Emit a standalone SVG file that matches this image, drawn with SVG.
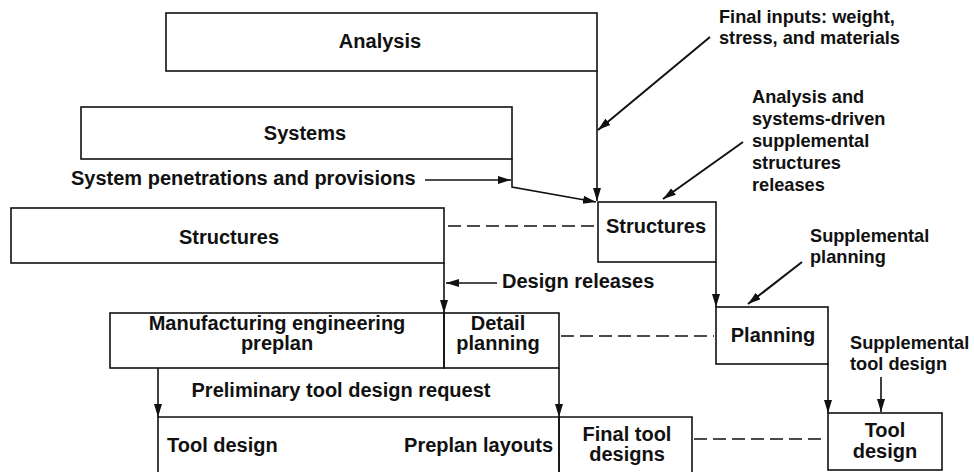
<svg xmlns="http://www.w3.org/2000/svg" width="974" height="472" viewBox="0 0 974 472">
<defs>
<marker id="ah" markerUnits="userSpaceOnUse" markerWidth="14" markerHeight="10" refX="13" refY="4" orient="auto">
<path d="M0,0 L13,4 L0,8 z" fill="#111"/>
</marker>
<style>
text{font-family:"Liberation Sans",Arial,sans-serif;font-weight:bold;font-size:20px;fill:#111}
.c{text-anchor:middle}
.n{font-size:18.2px}
.box{fill:none;stroke:#111;stroke-width:1.6}
.ln{fill:none;stroke:#111;stroke-width:1.6}
.ar{fill:none;stroke:#111;stroke-width:2}
.da{fill:none;stroke:#111;stroke-width:1.6;stroke-dasharray:13 6}
</style>
</defs>
<rect width="974" height="472" fill="#fff"/>

<g id="analysis">
<rect class="box" x="166" y="13" width="431" height="58"/>
<text class="c" x="380" y="48">Analysis</text>
</g>
<g id="systems">
<rect class="box" x="81" y="107" width="431" height="52"/>
<text class="c" x="305" y="140">Systems</text>
</g>
<g id="structures-main">
<rect class="box" x="11" y="208" width="433" height="55"/>
<text class="c" x="229" y="244">Structures</text>
</g>
<g id="mfg-preplan">
<rect class="box" x="110" y="313" width="334" height="55"/>
<text class="c" x="277" y="330">Manufacturing engineering</text>
<text class="c" x="277" y="350">preplan</text>
</g>
<g id="detail-planning">
<rect class="box" x="444" y="313" width="115" height="55"/>
<text class="c" x="498" y="330">Detail</text>
<text class="c" x="498" y="350">planning</text>
</g>
<g id="tool-design-main">
<path class="ln" d="M158,472 V417 H559 V472"/>
<text x="167" y="452">Tool design</text>
<text x="553" y="452" text-anchor="end">Preplan layouts</text>
</g>
<g id="final-tool-designs">
<path class="ln" d="M559,472 V417 H692 V472"/>
<text class="c" x="627" y="441">Final tool</text>
<text class="c" x="627" y="461">designs</text>
</g>
<g id="structures-supp">
<rect class="box" x="598" y="202" width="118" height="60"/>
<text class="c" x="656" y="233">Structures</text>
</g>
<g id="planning">
<rect class="box" x="716" y="307" width="112" height="57"/>
<text class="c" x="773" y="342">Planning</text>
</g>
<g id="tool-design-supp">
<rect class="box" x="828" y="413" width="114" height="57"/>
<text class="c" x="885" y="437">Tool</text>
<text class="c" x="885" y="458">design</text>
</g>

<g id="labels">
<text x="71" y="185">System penetrations and provisions</text>
<text x="502" y="288">Design releases</text>
<text class="c" x="341" y="397">Preliminary tool design request</text>
<text class="n" x="719" y="23">Final inputs: weight,</text>
<text class="n" x="719" y="44">stress, and materials</text>
<text class="n" x="752" y="103">Analysis and</text>
<text class="n" x="752" y="125">systems-driven</text>
<text class="n" x="752" y="147">supplemental</text>
<text class="n" x="752" y="169">structures</text>
<text class="n" x="752" y="191">releases</text>
<text class="n" x="810" y="242">Supplemental</text>
<text class="n" x="810" y="263">planning</text>
<text class="n" x="850" y="349">Supplemental</text>
<text class="n" x="850" y="370">tool design</text>
</g>

<g id="connectors">
<path class="ln" d="M597,71 V201" marker-end="url(#ah)"/>
<path class="ln" d="M512,159 V187 L596,202" marker-end="url(#ah)"/>
<path class="ln" d="M425,180 H511" marker-end="url(#ah)"/>
<path class="ar" d="M710,37 L598,130" marker-end="url(#ah)"/>
<path class="ar" d="M743,142 L663,199" marker-end="url(#ah)"/>
<path class="ln" d="M444,263 V313" marker-end="url(#ah)"/>
<path class="ln" d="M497,283 H446" marker-end="url(#ah)"/>
<path class="ln" d="M716,262 V307" marker-end="url(#ah)"/>
<path class="ar" d="M802,262 L748,304" marker-end="url(#ah)"/>
<path class="ln" d="M828,364 V413" marker-end="url(#ah)"/>
<path class="ln" d="M559,368 V417" marker-end="url(#ah)"/>
<path class="ln" d="M158,368 V417" marker-end="url(#ah)"/>
<path class="ln" d="M881,377 V412" marker-end="url(#ah)"/>
<path class="da" d="M448,226 H596"/>
<path class="da" d="M561,336 H714"/>
<path class="da" d="M694,439 H826"/>
</g>
</svg>
